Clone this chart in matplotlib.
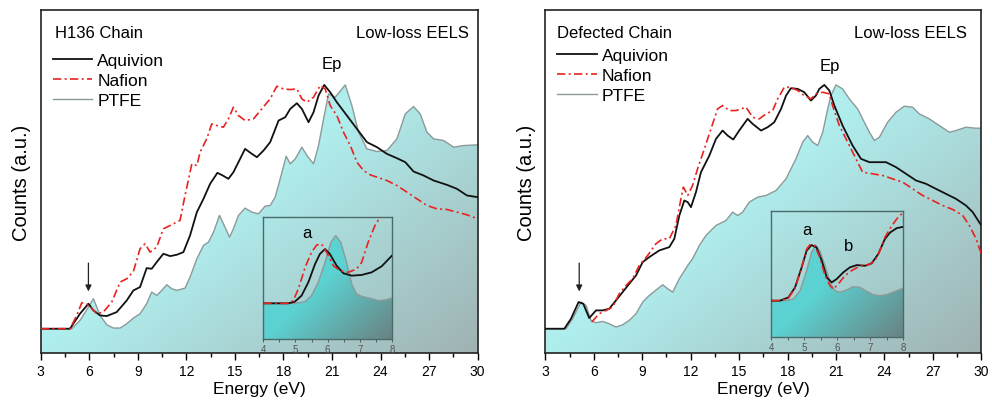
import numpy as np
import matplotlib
matplotlib.use("Agg")
import matplotlib.pyplot as plt
from matplotlib.lines import Line2D

plt.rcParams["font.family"] = ["Liberation Sans", "DejaVu Sans"]

# ---- H136 chain (left panel), energy in eV, counts in a.u. ----
h136_aquivion_ev = [3.0, 4.81, 5.43, 5.95, 6.26, 6.67, 7.08, 7.70, 8.32, 8.73, 9.14, 9.55, 9.86,
                    10.17, 10.58, 11.0, 11.41, 11.82, 12.23, 12.65, 13.06, 13.47, 13.92, 14.25,
                    14.60, 14.91, 15.22, 15.63, 16.05, 16.36, 16.77, 17.18, 17.70, 18.11, 18.42,
                    18.83, 19.14, 19.55, 19.86, 20.17, 20.52, 20.89, 21.30, 21.92, 22.54, 23.16,
                    23.78, 24.39, 25.01, 25.53, 26.04, 26.66, 27.28, 28.10, 28.72, 29.34, 30.0]
h136_aquivion = [7.3, 7.3, 11.8, 14.8, 12.8, 11.3, 11.1, 12.3, 15.8, 18.8, 19.8, 25.5, 25.3,
                 27.3, 29.8, 29.1, 29.5, 30.3, 35.3, 42.3, 46.3, 50.8, 54.1, 53.3,
                 52.3, 54.3, 57.3, 61.3, 59.8, 58.8, 60.8, 63.3, 69.8, 70.8, 73.3,
                 75.0, 73.3, 69.3, 72.3, 77.3, 80.5, 78.3, 75.3, 71.3, 67.3, 63.3,
                 61.8, 59.8, 58.5, 57.3, 54.5, 53.3, 51.8, 50.5, 49.3, 47.3, 46.8]

h136_nafion_ev = [3.0, 4.81, 5.23, 5.54, 5.95, 6.46, 6.87, 7.39, 7.91, 8.32, 8.73, 9.14, 9.45,
                  9.76, 10.17, 10.58, 11.0, 11.61, 11.92, 12.34, 12.65, 12.85, 13.26, 13.57,
                  13.88, 14.29, 14.60, 14.91, 15.22, 15.63, 16.15, 16.66, 17.18, 17.59, 18.0,
                  18.42, 18.83, 19.14, 19.45, 19.86, 20.27, 20.58, 20.89, 21.30, 21.71, 22.13,
                  22.54, 22.95, 23.36, 23.78, 24.39, 25.01, 25.63, 26.25, 26.87, 27.48, 28.10,
                  28.72, 29.34, 30.0]
h136_nafion = [7.3, 7.3, 11.3, 15.1, 14.5, 11.8, 12.3, 15.3, 21.3, 22.3, 24.5, 31.3, 32.8,
               30.3, 31.8, 37.3, 38.3, 39.8, 47.3, 56.8, 56.3, 60.3, 64.3, 68.8,
               68.3, 67.8, 70.3, 73.8, 71.3, 69.8, 70.3, 73.3, 76.3, 80.1, 79.3,
               79.1, 79.3, 76.3, 75.3, 76.8, 80.3, 79.3, 74.3, 71.3, 66.3, 62.3,
               57.3, 54.8, 53.5, 52.8, 51.8, 50.3, 48.3, 46.3, 44.3, 43.3, 43.1,
               42.3, 41.5, 40.3]

h136_ptfe_ev = [3.0, 4.92, 5.43, 5.89, 6.26, 6.67, 7.08, 7.49, 7.91, 8.32, 8.73, 9.14, 9.55,
                9.86, 10.17, 10.48, 10.79, 11.10, 11.41, 11.92, 12.23, 12.65, 13.06, 13.37,
                13.68, 14.05, 14.34, 14.67, 14.91, 15.22, 15.63, 16.05, 16.46, 16.87, 17.18,
                17.49, 17.80, 18.17, 18.42, 18.73, 19.14, 19.45, 19.86, 20.17, 20.48, 20.79,
                21.20, 21.82, 22.23, 22.64, 23.16, 23.78, 24.39, 25.01, 25.53, 26.04, 26.45,
                26.87, 27.28, 27.90, 28.52, 29.13, 30.0]
h136_ptfe = [7.3, 7.3, 9.8, 13.3, 16.3, 11.3, 8.5, 7.5, 7.5, 8.8, 10.5, 11.8, 14.8,
             18.3, 17.3, 18.8, 20.5, 19.3, 18.8, 19.5, 22.8, 28.3, 32.3, 33.3,
             36.3, 41.3, 38.3, 34.8, 37.3, 41.3, 43.5, 42.3, 41.8, 44.1, 44.3,
             46.8, 52.3, 59.1, 56.8, 58.3, 61.8, 59.3, 56.8, 62.3, 70.3, 77.8,
             76.8, 80.5, 74.3, 66.3, 61.3, 60.5, 60.8, 64.3, 71.8, 74.0, 71.8,
             66.3, 64.3, 63.8, 61.8, 62.3, 62.5]

# inset 4-8 eV, H136
h136_in_aquivion_ev = [4.0, 4.78, 4.98, 5.19, 5.40, 5.61, 5.76, 5.92, 6.07, 6.28, 6.49, 6.75,
                       7.06, 7.37, 7.68, 8.0]
h136_in_aquivion = [7.32, 7.32, 7.55, 8.38, 10.22, 12.75, 14.13, 14.82, 14.13, 12.52, 11.47,
                    11.14, 11.24, 11.6, 12.43, 13.9]
h136_in_nafion_ev = [4.0, 4.78, 4.93, 5.09, 5.30, 5.50, 5.66, 5.81, 5.97, 6.18, 6.38, 6.64,
                     6.90, 7.06, 7.26, 7.47, 7.65]
h136_in_nafion = [7.32, 7.32, 7.69, 9.30, 12.29, 14.36, 15.37, 15.51, 14.36, 12.52, 11.83,
                  11.6, 12.06, 12.98, 15.74, 18.04, 19.33]
h136_in_ptfe_ev = [4.0, 4.98, 5.30, 5.50, 5.71, 5.92, 6.10, 6.25, 6.41, 6.59, 6.75, 6.90,
                   7.06, 7.32, 7.58, 7.78, 8.0]
h136_in_ptfe = [7.32, 7.32, 7.55, 8.38, 10.22, 12.98, 15.74, 16.66, 15.74, 12.98, 9.99,
                8.61, 8.29, 8.02, 7.69, 7.78, 8.02]

# ---- Defected chain (right panel) ----
def_aquivion_ev = [3.0, 4.18, 4.59, 5.06, 5.35, 5.72, 6.14, 6.55, 6.96, 7.38, 7.79, 8.20, 8.62,
                   9.03, 9.44, 10.06, 10.68, 10.99, 11.30, 11.61, 11.82, 12.02, 12.33, 12.64,
                   13.16, 13.57, 13.98, 14.29, 14.64, 15.01, 15.53, 15.84, 16.36, 16.77, 17.18,
                   17.60, 17.91, 18.21, 18.63, 19.04, 19.45, 19.76, 19.97, 20.28, 20.59, 20.90,
                   21.41, 22.03, 22.55, 23.07, 23.69, 24.10, 24.72, 25.34, 25.96, 26.58, 27.19,
                   27.81, 28.43, 29.05, 29.47, 30.0]
def_aquivion = [7.3, 7.3, 10.3, 15.3, 14.8, 10.5, 12.8, 12.8, 13.3, 15.8, 18.3, 20.8, 23.3,
                27.3, 28.8, 30.8, 31.8, 34.3, 41.3, 45.8, 45.3, 43.8, 48.3, 54.3,
                59.3, 64.3, 66.8, 65.3, 64.1, 66.8, 70.3, 68.8, 66.8, 67.8, 69.3,
                73.3, 77.3, 79.5, 79.3, 78.3, 75.8, 77.3, 79.3, 80.5, 78.8, 74.3,
                68.3, 62.3, 58.3, 57.3, 57.3, 57.3, 55.8, 53.8, 51.8, 50.8, 49.3,
                47.8, 46.3, 44.3, 42.3, 38.3]

def_nafion_ev = [5.87, 6.34, 6.76, 7.17, 7.58, 8.0, 8.41, 8.82, 9.34, 9.85, 10.27, 10.68, 11.09,
                 11.40, 11.55, 11.82, 12.12, 12.43, 12.85, 13.26, 13.67, 13.98, 14.40, 14.81,
                 15.43, 15.84, 16.25, 16.67, 17.08, 17.39, 17.80, 18.21, 18.63, 19.04, 19.45,
                 19.76, 20.18, 20.59, 20.79, 21.21, 21.83, 22.24, 22.65, 23.27, 23.89, 24.51,
                 25.13, 25.75, 26.37, 26.99, 27.61, 28.23, 28.85, 29.26, 29.68, 30.0]
def_nafion = [9.3, 11.8, 12.8, 13.8, 17.8, 20.3, 22.3, 26.3, 29.3, 32.8, 34.3, 34.3, 38.3,
              46.3, 49.8, 47.3, 50.3, 55.3, 61.3, 67.3, 73.3, 74.3, 72.8, 72.8,
              73.8, 70.8, 70.3, 71.8, 72.8, 76.3, 79.8, 79.8, 78.8, 77.3, 76.3,
              77.8, 78.3, 77.8, 74.3, 68.3, 62.3, 58.3, 54.3, 53.8, 53.3, 52.3,
              51.3, 49.3, 47.3, 45.8, 44.3, 43.1, 41.3, 38.3, 34.3, 29.8]

def_ptfe_ev = [3.0, 4.28, 4.69, 5.21, 5.52, 5.83, 6.14, 6.55, 6.96, 7.38, 7.79, 8.20, 8.62,
               9.03, 9.44, 9.96, 10.27, 10.58, 10.89, 11.30, 11.82, 12.12, 12.54, 12.95,
               13.57, 14.19, 14.60, 14.91, 15.22, 15.63, 16.15, 16.67, 17.29, 17.91, 18.52,
               18.94, 19.25, 19.56, 19.87, 20.18, 20.49, 20.69, 21.0, 21.41, 21.83, 22.34,
               22.65, 23.07, 23.38, 23.69, 24.20, 24.72, 25.23, 25.75, 26.16, 26.78, 27.40,
               28.02, 28.43, 29.05, 29.67, 30.0]
def_ptfe = [7.3, 7.3, 10.3, 15.3, 14.3, 9.8, 9.1, 9.5, 8.8, 7.8, 8.5, 9.8, 11.8,
            15.3, 17.3, 19.3, 20.5, 19.3, 18.3, 22.3, 26.3, 28.3, 32.3, 35.3,
            38.3, 39.8, 42.3, 41.3, 42.3, 45.3, 46.8, 47.3, 48.8, 52.3, 58.3,
            63.3, 65.3, 63.3, 62.3, 66.3, 73.3, 77.3, 80.5, 79.3, 76.3, 73.3,
            70.3, 66.3, 63.8, 64.8, 69.3, 72.3, 74.1, 73.8, 71.8, 70.3, 68.3,
            66.3, 66.8, 67.8, 67.5, 67.5]

# inset 4-8 eV, defected
def_in_aquivion_ev = [4.0, 4.26, 4.52, 4.72, 4.92, 5.07, 5.22, 5.37, 5.53, 5.68, 5.83, 5.98,
                      6.18, 6.38, 6.59, 6.84, 7.04, 7.24, 7.44, 7.60, 7.80, 8.0]
def_in_aquivion = [7.30, 7.30, 7.77, 9.20, 12.06, 14.44, 15.25, 14.91, 13.01, 10.63, 9.91,
                   10.39, 11.34, 12.06, 12.39, 12.29, 12.63, 13.96, 16.10, 17.05, 17.67, 17.86]
def_in_nafion_ev = [4.0, 4.26, 4.52, 4.72, 4.92, 5.07, 5.17, 5.32, 5.47, 5.63, 5.78, 5.88,
                    6.03, 6.23, 6.43, 6.69, 6.94, 7.14, 7.29, 7.44, 7.65, 7.85, 8.0]
def_in_nafion = [7.30, 7.30, 7.68, 9.10, 12.06, 14.67, 15.29, 15.15, 13.48, 10.87, 9.44, 8.96,
                 9.68, 10.87, 11.58, 12.29, 12.44, 13.01, 14.44, 16.34, 18.01, 19.29, 19.91]
def_in_ptfe_ev = [4.0, 4.41, 4.67, 4.87, 5.07, 5.22, 5.34, 5.47, 5.63, 5.78, 5.93, 6.08,
                  6.28, 6.48, 6.69, 6.89, 7.09, 7.29, 7.49, 7.75, 8.0]
def_in_ptfe = [7.30, 7.30, 7.53, 8.72, 11.58, 14.20, 15.29, 14.44, 12.29, 9.91, 8.72, 8.49,
               8.82, 9.30, 9.20, 8.63, 8.15, 8.01, 8.15, 8.63, 9.10]

energy_ticks = [3, 6, 9, 12, 15, 18, 21, 24, 27, 30]
inset_ticks = [4, 5, 6, 7, 8]

BLACK = "#111111"
RED = "#e8231f"
GRAY = "#8c9a9a"


def gradient_fill(ax, x, y, ylo, yhi, xlo, xhi, c0, c1):
    poly = ax.fill_between(x, y, ylo, facecolor="none", edgecolor="none")
    u = np.linspace(0, 1, 300)[None, :]
    v = np.linspace(0, 1, 150)[:, None]
    t = np.clip(u - v, 0, 1)[..., None]
    img = (1 - t) * np.array(c0) / 255.0 + t * np.array(c1) / 255.0
    im = ax.imshow(img, extent=[xlo, xhi, ylo, yhi], origin="lower",
                   aspect="auto", zorder=0.5, interpolation="bilinear")
    im.set_clip_path(poly.get_paths()[0], transform=ax.transData)


def panel(ax, title, aq_x, aq_y, na_x, na_y, pt_x, pt_y, arrow_x, ep_x, ep_y,
          title_x, eels_x, leg_y):
    ylo, yhi = 0, 103
    gradient_fill(ax, pt_x, pt_y, ylo, yhi, 3, 30, (176, 238, 238), (160, 178, 178))
    ax.plot(pt_x, pt_y, color=GRAY, lw=1.0, zorder=2)
    ax.plot(aq_x, aq_y, color=BLACK, lw=1.3, zorder=3)
    ax.plot(na_x, na_y, color=RED, lw=1.2, dashes=(5, 2, 1.2, 2), zorder=4)
    ax.set_xlim(3, 30)
    ax.set_ylim(ylo, yhi)
    ax.set_xticks(energy_ticks)
    ax.set_xticks([t + 1.5 for t in energy_ticks[:-1]], minor=True)
    ax.set_yticks([])
    ax.tick_params(axis="x", which="major", length=5, width=1, labelsize=10, pad=3)
    ax.tick_params(axis="x", which="minor", length=3, width=1)
    for s in ax.spines.values():
        s.set_linewidth(1.2)
        s.set_color("#222222")
    ax.set_xlabel("Energy (eV)", fontsize=12.5, labelpad=2)
    ax.set_ylabel("Counts (a.u.)", fontsize=14.5, labelpad=7)
    ax.text(title_x, 0.935, title, transform=ax.transAxes, fontsize=12, va="center", ha="left")
    ax.text(eels_x, 0.935, "Low-loss EELS", transform=ax.transAxes, fontsize=12,
            va="center", ha="right")
    ax.text(ep_x, ep_y, "Ep", fontsize=12, ha="center", va="center")
    ax.annotate("", xy=(arrow_x, 18.5), xytext=(arrow_x, 27),
                arrowprops=dict(arrowstyle="-|>", color="#222222", lw=0.9,
                                mutation_scale=9, shrinkA=0, shrinkB=0))
    handles = [Line2D([], [], color=BLACK, lw=1.3),
               Line2D([], [], color=RED, lw=1.2, dashes=(5, 2, 1.2, 2)),
               Line2D([], [], color=GRAY, lw=1.0)]
    ax.legend(handles, ["Aquivion", "Nafion", "PTFE"], loc="upper left",
              bbox_to_anchor=(0.02, leg_y), frameon=False, fontsize=12.5,
              handlelength=2.25, handletextpad=0.3, labelspacing=0.28, borderaxespad=0,
              borderpad=0.2)


def inset(fig, rect, ylim, aq_x, aq_y, na_x, na_y, pt_x, pt_y, labels):
    ax = fig.add_axes(rect)
    ax.set_facecolor("none")
    gradient_fill(ax, pt_x, pt_y, ylim[0], ylim[1], 4, 8, (92, 210, 210), (106, 130, 130))
    ax.plot(pt_x, pt_y, color=GRAY, lw=1.0, zorder=2)
    ax.plot(aq_x, aq_y, color=BLACK, lw=1.3, zorder=3)
    ax.plot(na_x, na_y, color=RED, lw=1.2, dashes=(5, 2, 1.2, 2), zorder=4)
    ax.set_xlim(4, 8)
    ax.set_ylim(*ylim)
    ax.set_yticks([])
    ax.set_xticks(inset_ticks)
    ax.set_xticks([4.5, 5.5, 6.5, 7.5], minor=True)
    ax.tick_params(axis="x", which="both", length=2, width=0.7, labelsize=7,
                   colors="#555555", pad=1.5)
    for s in ax.spines.values():
        s.set_linewidth(1.0)
        s.set_color("#4b6a6a")
    for (tx, ty, txt) in labels:
        ax.text(tx, ty, txt, fontsize=12, ha="center", va="center")
    return ax


fig = plt.figure(figsize=(9.92, 4.06), dpi=100)
ax1 = fig.add_axes([0.0410, 0.128, 0.4405, 0.845])
ax2 = fig.add_axes([0.5497, 0.128, 0.4395, 0.845])

panel(ax1, "H136 Chain", h136_aquivion_ev, h136_aquivion, h136_nafion_ev, h136_nafion,
      h136_ptfe_ev, h136_ptfe, 5.95, 21.0, 86.8, 0.033, 0.979, 0.885)
panel(ax2, "Defected Chain", def_aquivion_ev, def_aquivion, def_nafion_ev, def_nafion,
      def_ptfe_ev, def_ptfe, 5.1, 20.6, 86.3, 0.027, 0.967, 0.899)

inset(fig, [0.2654, 0.1626, 0.1297, 0.2998], (2.4, 19.2),
      h136_in_aquivion_ev, h136_in_aquivion, h136_in_nafion_ev, h136_in_nafion,
      h136_in_ptfe_ev, h136_in_ptfe, [(5.35, 17.1, "a")])
inset(fig, [0.7775, 0.1667, 0.1331, 0.3118], (2.06, 20.16),
      def_in_aquivion_ev, def_in_aquivion, def_in_nafion_ev, def_in_nafion,
      def_in_ptfe_ev, def_in_ptfe, [(5.07, 17.5, "a"), (6.33, 15.15, "b")])

fig.savefig("out.png", dpi=100)
